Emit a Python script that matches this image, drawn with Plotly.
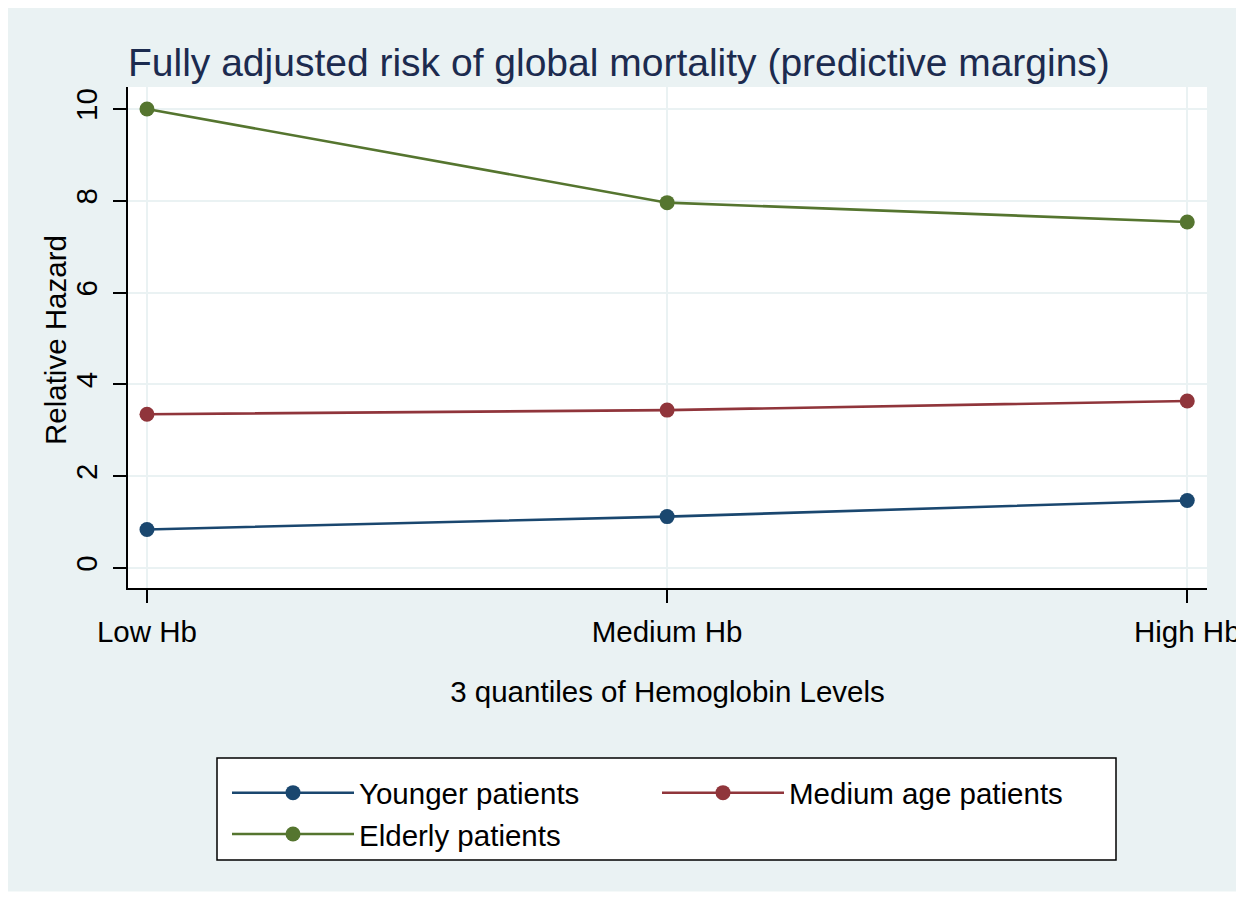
import plotly.graph_objects as go

categories = ["Low Hb", "Medium Hb", "High Hb"]
younger = [0.84, 1.12, 1.47]
medium_age = [3.35, 3.44, 3.64]
elderly = [10.0, 7.96, 7.54]
series_names = ["Younger patients", "Medium age patients", "Elderly patients"]
colors = ["#1a476f", "#90353b", "#55752f"]
y_ticks = [0, 2, 4, 6, 8, 10]

# page offset (browser body margin)
O = 8
PW, PH = 1244, 897
W, H = PW - O, PH - O
L, R, T, B = 128, 1207, 87, 588   # plot area in page pixels
pw, ph = R - L, B - T

def px(x):
    return (x - L) / pw

def py(y):
    return (B - y) / ph

def cx(x):
    return (x - O) / W

def cy(y):
    return 1 - (y - O) / H

FONT = "Liberation Sans, Arial, sans-serif"
BG = "#eaf2f3"
FS = 29.5

fig = go.Figure()
for name, vals, col in zip(series_names, [younger, medium_age, elderly], colors):
    fig.add_trace(go.Scatter(
        x=categories, y=vals, name=name, mode="lines+markers",
        line=dict(color=col, width=2.6),
        marker=dict(color=col, size=15),
    ))

fig.update_layout(
    width=W, height=H,
    margin=dict(l=L - O, r=(O + W) - R, t=T - O, b=PH - B, pad=0, autoexpand=False),
    paper_bgcolor=BG, plot_bgcolor="white",
    font=dict(family=FONT, size=FS, color="black"),
    title=dict(text="Fully adjusted risk of global mortality (predictive margins)",
               font=dict(size=39, color="#1c2b4f", family=FONT),
               x=0, xref="paper", xanchor="left",
               y=cy(62), yref="container", yanchor="middle"),
    showlegend=True,
    legend=dict(orientation="h", xref="container", yref="container",
                x=cx(227), y=cy(767), xanchor="left", yanchor="top",
                bgcolor="rgba(0,0,0,0)", borderwidth=0,
                font=dict(size=FS, family=FONT), entrywidth=293, entrywidthmode="pixels",
                itemwidth=122, traceorder="normal", tracegroupgap=0),
    shapes=[
        dict(type="rect", xref="paper", yref="paper",
             x0=px(217), x1=px(1116), y0=py(860), y1=py(758),
             fillcolor="white", line=dict(color="black", width=1.5), layer="below"),
        dict(type="rect", xref="paper", yref="paper",
             x0=px(-40), x1=px(PW), y0=py(PH), y1=py(-40),
             line=dict(color="white", width=11), fillcolor="rgba(0,0,0,0)", layer="above"),
    ],
    annotations=[
        dict(text="Relative Hazard", xref="paper", yref="paper",
             x=px(55), y=py(340), xanchor="center", yanchor="middle",
             textangle=-90, showarrow=False, font=dict(size=FS, family=FONT)),
    ],
)

fig.update_xaxes(
    type="category", range=[-0.0365, 2.038], automargin=False,
    showgrid=True, gridcolor=BG, gridwidth=2,
    showline=True, linecolor="black", linewidth=2,
    ticks="outside", ticklen=13, tickwidth=2, tickcolor="black",
    tickfont=dict(size=FS), ticklabelstandoff=4,
    title=dict(text="3 quantiles of Hemoglobin Levels", font=dict(size=FS), standoff=34),
)
fig.update_yaxes(
    range=[-0.436, 10.48], tickvals=y_ticks, tickangle=-90, automargin=False,
    showgrid=True, gridcolor=BG, gridwidth=2, zeroline=False,
    showline=True, linecolor="black", linewidth=2,
    ticks="outside", ticklen=13, tickwidth=2, tickcolor="black",
    tickfont=dict(size=FS), ticklabelstandoff=4,
)

fig.write_html("out.html")
